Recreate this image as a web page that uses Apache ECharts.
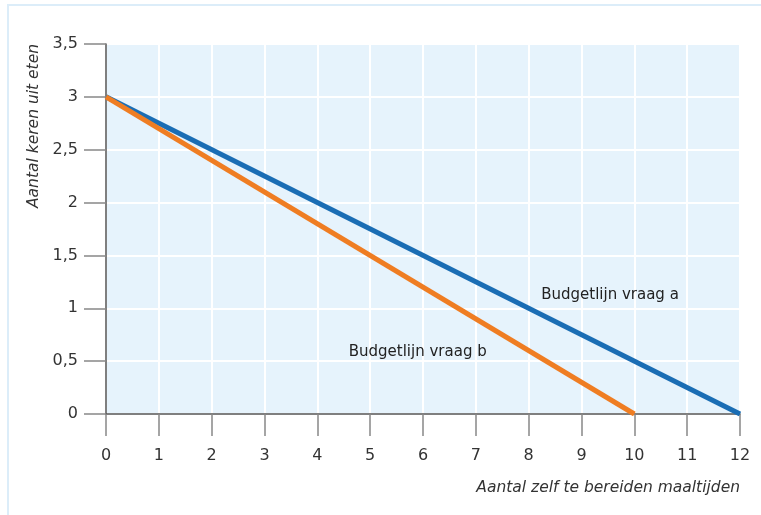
<!DOCTYPE html>
<html><head><meta charset="utf-8">
<script src="https://cdn.jsdelivr.net/npm/echarts@6/dist/echarts.min.js"></script>
<style>html,body{margin:0;padding:0;background:#fff}#c{width:761px;height:515px}</style>
</head><body><div id="c"></div>
<script>
const lineA = [[0, 3], [12, 0]];
const lineB = [[0, 3], [10, 0]];
const labelA = 'Budgetlijn vraag a';
const labelB = 'Budgetlijn vraag b';
const labelPosA = [9.54, 1.12];
const labelPosB = [5.9, 0.59];
const xName = 'Aantal zelf te bereiden maaltijden';
const yName = 'Aantal keren uit eten';

const chart = echarts.init(document.getElementById('c'), null, {renderer: 'canvas'});
const font = 'DejaVu Sans, Verdana, sans-serif';
chart.setOption({
  animation: false,
  graphic: [{type: 'rect', shape: {x: 8, y: 5, width: 800, height: 600}, style: {fill: 'none', stroke: '#dcedf9', lineWidth: 2}, z: -1}],
  grid: {left: 106, right: 21, top: 44, bottom: 101, show: true, backgroundColor: '#e6f3fc', borderWidth: 0, containLabel: false, outerBoundsMode: 'none'},
  xAxis: {
    type: 'value', min: 0, max: 12, interval: 1,
    name: xName, nameLocation: 'end', nameGap: 0, nameMoveOverlap: false,
    nameTextStyle: {fontFamily: font, fontSize: 15.5, fontStyle: 'italic', color: '#333', align: 'right', verticalAlign: 'top', lineHeight: 18, padding: [65, 0, 0, 0]},
    axisLine: {show: true, onZero: false, lineStyle: {color: '#555', width: 1.5}},
    axisTick: {show: true, inside: false, length: 22, lineStyle: {color: '#888', width: 1.5}},
    axisLabel: {margin: 34, fontFamily: font, fontSize: 16, color: '#333'},
    splitLine: {show: true, lineStyle: {color: '#ffffff', width: 2}}
  },
  yAxis: {
    type: 'value', min: 0, max: 3.5, interval: 0.5,
    name: yName, nameLocation: 'middle', nameGap: 64, nameRotate: 90, nameMoveOverlap: false,
    nameTextStyle: {fontFamily: font, fontSize: 15.5, fontStyle: 'italic', color: '#333', padding: [0, 0, 0, 206]},
    axisLine: {show: true, onZero: false, lineStyle: {color: '#555', width: 1.5}},
    axisTick: {show: true, inside: false, length: 22, lineStyle: {color: '#888', width: 1.5}},
    axisLabel: {margin: 28, fontFamily: font, fontSize: 16, color: '#333', formatter: v => String(v).replace('.', ',')},
    splitLine: {show: true, lineStyle: {color: '#ffffff', width: 2}}
  },
  series: [
    {type: 'line', data: lineA, symbol: 'none', lineStyle: {color: '#1a6db4', width: 5}, z: 3,
     markPoint: {symbol: 'circle', symbolSize: 0, data: [{coord: labelPosA}],
       label: {show: true, formatter: labelA, position: 'inside', fontFamily: font, fontSize: 15, color: '#222'}}},
    {type: 'line', data: lineB, symbol: 'none', lineStyle: {color: '#ef7d22', width: 5}, z: 4,
     markPoint: {symbol: 'circle', symbolSize: 0, data: [{coord: labelPosB}],
       label: {show: true, formatter: labelB, position: 'inside', fontFamily: font, fontSize: 15, color: '#222'}}}
  ]
});
</script></body></html>
